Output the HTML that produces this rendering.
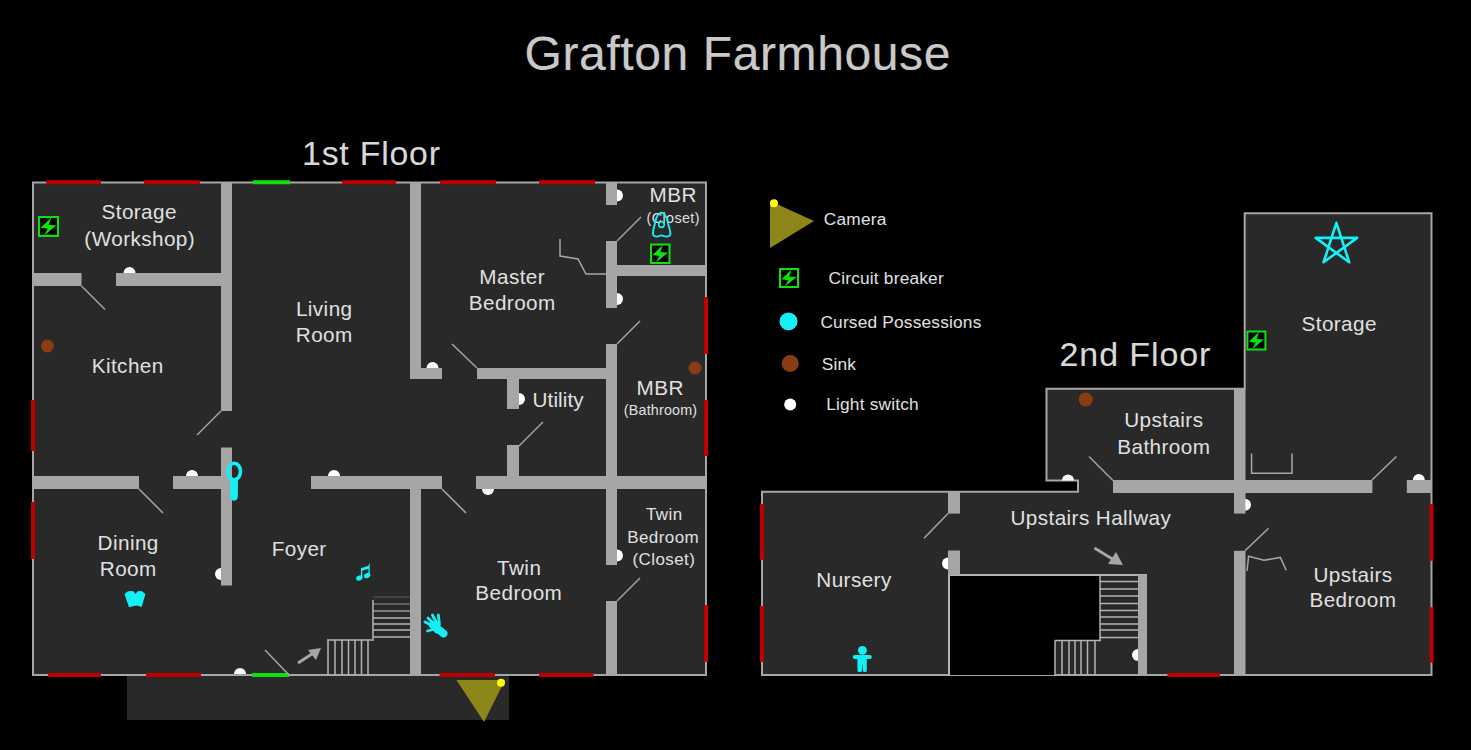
<!DOCTYPE html>
<html><head><meta charset="utf-8"><title>Grafton Farmhouse</title>
<style>html,body{margin:0;padding:0;background:#000;overflow:hidden}svg{display:block}text{font-family:"Liberation Sans",sans-serif}</style>
</head><body>
<svg width="1471" height="750" viewBox="0 0 1471 750">
<rect x="0" y="0" width="1471" height="750" fill="#000"/>
<text x="737.8" y="70" font-size="48" text-anchor="middle" fill="#c9c9c9" stroke="#c9c9c9" stroke-width="0.2" letter-spacing="0.6">Grafton Farmhouse</text>
<text x="371.4" y="165" font-size="33.8" text-anchor="middle" fill="#d8d8d8" stroke="#d8d8d8" stroke-width="0.1" letter-spacing="0.8">1st Floor</text>
<text x="1135.45" y="365.7" font-size="34" text-anchor="middle" fill="#d8d8d8" stroke="#d8d8d8" stroke-width="0.1" letter-spacing="0.9">2nd Floor</text>
<rect x="127" y="675" width="382" height="45" fill="#292929" />
<rect x="33" y="182.5" width="673" height="492.5" fill="#292929" stroke="#a6a6a6" stroke-width="2"/>
<line x1="46" y1="182.3" x2="101" y2="182.3" stroke="#c00000" stroke-width="4" />
<line x1="144" y1="182.3" x2="200" y2="182.3" stroke="#c00000" stroke-width="4" />
<line x1="342" y1="182.3" x2="396" y2="182.3" stroke="#c00000" stroke-width="4" />
<line x1="440" y1="182.3" x2="496" y2="182.3" stroke="#c00000" stroke-width="4" />
<line x1="539" y1="182.3" x2="595" y2="182.3" stroke="#c00000" stroke-width="4" />
<line x1="253" y1="182.3" x2="290" y2="182.3" stroke="#10e010" stroke-width="4" />
<line x1="48" y1="675" x2="101" y2="675" stroke="#c00000" stroke-width="4" />
<line x1="146" y1="675" x2="201" y2="675" stroke="#c00000" stroke-width="4" />
<line x1="439.5" y1="675" x2="495" y2="675" stroke="#c00000" stroke-width="4" />
<line x1="539" y1="675" x2="593.5" y2="675" stroke="#c00000" stroke-width="4" />
<line x1="252" y1="675" x2="289" y2="675" stroke="#10e010" stroke-width="4" />
<line x1="33" y1="400" x2="33" y2="451" stroke="#c00000" stroke-width="4" />
<line x1="33" y1="502" x2="33" y2="559" stroke="#c00000" stroke-width="4" />
<line x1="706" y1="297" x2="706" y2="354" stroke="#c00000" stroke-width="4" />
<line x1="706" y1="400" x2="706" y2="456" stroke="#c00000" stroke-width="4" />
<line x1="706" y1="605" x2="706" y2="662" stroke="#c00000" stroke-width="4" />
<path d="M123.5,273 A6,6 0 0 1 135.5,273 Z" fill="#ffffff"/>
<path d="M186,476 A6,6 0 0 1 198,476 Z" fill="#ffffff"/>
<path d="M221,568 A6,6 0 0 0 221,580 Z" fill="#ffffff"/>
<path d="M234,674 A6,6 0 0 1 246,674 Z" fill="#ffffff"/>
<path d="M328,476 A6,6 0 0 1 340,476 Z" fill="#ffffff"/>
<path d="M426.5,368 A6,6 0 0 1 438.5,368 Z" fill="#ffffff"/>
<path d="M482,489 A6,6 0 0 0 494,489 Z" fill="#ffffff"/>
<path d="M519,393 A6,6 0 0 1 519,405 Z" fill="#ffffff"/>
<path d="M617,189.5 A6,6 0 0 1 617,201.5 Z" fill="#ffffff"/>
<path d="M617,293 A6,6 0 0 1 617,305 Z" fill="#ffffff"/>
<path d="M617,549.5 A6,6 0 0 1 617,561.5 Z" fill="#ffffff"/>
<rect x="221" y="182.5" width="11" height="228.5" fill="#a6a6a6" />
<rect x="221" y="447.5" width="11" height="138" fill="#a6a6a6" />
<rect x="33" y="273" width="48.5" height="13" fill="#a6a6a6" />
<rect x="116" y="273" width="105" height="13" fill="#a6a6a6" />
<rect x="33" y="476" width="106" height="13" fill="#a6a6a6" />
<rect x="173" y="476" width="48" height="13" fill="#a6a6a6" />
<rect x="410" y="182.5" width="11" height="196.5" fill="#a6a6a6" />
<rect x="410" y="368" width="32" height="11" fill="#a6a6a6" />
<rect x="311" y="476" width="131" height="13" fill="#a6a6a6" />
<rect x="410" y="489" width="11" height="186" fill="#a6a6a6" />
<rect x="477" y="368" width="129" height="11" fill="#a6a6a6" />
<rect x="507" y="379" width="12" height="30" fill="#a6a6a6" />
<rect x="507" y="445" width="12" height="31" fill="#a6a6a6" />
<rect x="476" y="476" width="230" height="13" fill="#a6a6a6" />
<rect x="606" y="182.5" width="11" height="22.5" fill="#a6a6a6" />
<rect x="606" y="241" width="11" height="67" fill="#a6a6a6" />
<rect x="606" y="344" width="11" height="221" fill="#a6a6a6" />
<rect x="606" y="601" width="11" height="74" fill="#a6a6a6" />
<rect x="617" y="265" width="89" height="11" fill="#a6a6a6" />
<line x1="81.5" y1="286" x2="105" y2="309.5" stroke="#a6a6a6" stroke-width="1.5" />
<line x1="221" y1="411" x2="197" y2="435" stroke="#a6a6a6" stroke-width="1.5" />
<line x1="139" y1="489" x2="163" y2="513" stroke="#a6a6a6" stroke-width="1.5" />
<line x1="265" y1="650" x2="289" y2="675" stroke="#a6a6a6" stroke-width="1.5" />
<line x1="452" y1="344" x2="477" y2="368" stroke="#a6a6a6" stroke-width="1.5" />
<line x1="442" y1="489" x2="466" y2="513" stroke="#a6a6a6" stroke-width="1.5" />
<line x1="519" y1="446" x2="543" y2="422" stroke="#a6a6a6" stroke-width="1.5" />
<line x1="617" y1="241" x2="641" y2="217" stroke="#a6a6a6" stroke-width="1.5" />
<line x1="617" y1="344" x2="640" y2="321" stroke="#a6a6a6" stroke-width="1.5" />
<line x1="617" y1="601" x2="640" y2="578" stroke="#a6a6a6" stroke-width="1.5" />
<polyline points="560,239 560,256 578,259 586,274 606,274" stroke="#a6a6a6" stroke-width="1.5" fill="none" />
<circle cx="47.4" cy="346" r="6.5" fill="#8a3c12"/>
<circle cx="695" cy="368" r="6.5" fill="#8a3c12"/>
<line x1="373" y1="600" x2="373" y2="639" stroke="#b4b4b4" stroke-width="1.5" />
<line x1="373" y1="597" x2="410" y2="597" stroke="#b4b4b4" stroke-width="1.5" stroke-opacity="0.25"/>
<line x1="373" y1="604" x2="410" y2="604" stroke="#b4b4b4" stroke-width="1.5" stroke-opacity="0.5"/>
<line x1="373" y1="611" x2="410" y2="611" stroke="#b4b4b4" stroke-width="1.5" stroke-opacity="0.8"/>
<line x1="373" y1="618" x2="410" y2="618" stroke="#b4b4b4" stroke-width="1.5" stroke-opacity="1"/>
<line x1="373" y1="624" x2="410" y2="624" stroke="#b4b4b4" stroke-width="1.5" stroke-opacity="1"/>
<line x1="373" y1="630" x2="410" y2="630" stroke="#b4b4b4" stroke-width="1.5" stroke-opacity="1"/>
<line x1="373" y1="637" x2="410" y2="637" stroke="#b4b4b4" stroke-width="1.5" stroke-opacity="1"/>
<line x1="327" y1="640" x2="374" y2="640" stroke="#b4b4b4" stroke-width="1.5" />
<line x1="328" y1="640" x2="328" y2="675" stroke="#b4b4b4" stroke-width="1.5" />
<line x1="335" y1="640" x2="335" y2="675" stroke="#b4b4b4" stroke-width="1.5" />
<line x1="342" y1="640" x2="342" y2="675" stroke="#b4b4b4" stroke-width="1.5" />
<line x1="348.5" y1="640" x2="348.5" y2="675" stroke="#b4b4b4" stroke-width="1.5" />
<line x1="355" y1="640" x2="355" y2="675" stroke="#b4b4b4" stroke-width="1.5" />
<line x1="361.5" y1="640" x2="361.5" y2="675" stroke="#b4b4b4" stroke-width="1.5" />
<line x1="368" y1="640" x2="368" y2="675" stroke="#b4b4b4" stroke-width="1.5" />
<line x1="298" y1="663" x2="315" y2="652" stroke="#a6a6a6" stroke-width="3" />
<polygon points="321,648 308,650 316,660" stroke="#a6a6a6" stroke-width="0" fill="#a6a6a6" />
<text x="139.21" y="219" font-size="20.7" text-anchor="middle" fill="#e0e0e0" stroke="#e0e0e0" stroke-width="0" letter-spacing="0.42">Storage</text>
<text x="139.71" y="246" font-size="20.7" text-anchor="middle" fill="#e0e0e0" stroke="#e0e0e0" stroke-width="0" letter-spacing="0.42">(Workshop)</text>
<text x="127.71" y="373" font-size="20.7" text-anchor="middle" fill="#e0e0e0" stroke="#e0e0e0" stroke-width="0" letter-spacing="0.42">Kitchen</text>
<text x="324.21" y="316" font-size="20.7" text-anchor="middle" fill="#e0e0e0" stroke="#e0e0e0" stroke-width="0" letter-spacing="0.42">Living</text>
<text x="324.21" y="342" font-size="20.7" text-anchor="middle" fill="#e0e0e0" stroke="#e0e0e0" stroke-width="0" letter-spacing="0.42">Room</text>
<text x="512.21" y="284" font-size="20.7" text-anchor="middle" fill="#e0e0e0" stroke="#e0e0e0" stroke-width="0" letter-spacing="0.42">Master</text>
<text x="512.21" y="310" font-size="20.7" text-anchor="middle" fill="#e0e0e0" stroke="#e0e0e0" stroke-width="0" letter-spacing="0.42">Bedroom</text>
<text x="532.5" y="406.7" font-size="20.7" text-anchor="start" fill="#e0e0e0" stroke="#e0e0e0" stroke-width="0" letter-spacing="0.1">Utility</text>
<text x="673.21" y="202" font-size="20.7" text-anchor="middle" fill="#e0e0e0" stroke="#e0e0e0" stroke-width="0" letter-spacing="0.42">MBR</text>
<text x="673.21" y="223" font-size="14.3" text-anchor="middle" fill="#e0e0e0" stroke="#e0e0e0" stroke-width="0" letter-spacing="0.42">(Closet)</text>
<text x="660.21" y="394.5" font-size="20.7" text-anchor="middle" fill="#e0e0e0" stroke="#e0e0e0" stroke-width="0" letter-spacing="0.42">MBR</text>
<text x="660.6" y="415" font-size="14.3" text-anchor="middle" fill="#e0e0e0" stroke="#e0e0e0" stroke-width="0" letter-spacing="0.2">(Bathroom)</text>
<text x="128.21" y="550" font-size="20.7" text-anchor="middle" fill="#e0e0e0" stroke="#e0e0e0" stroke-width="0" letter-spacing="0.42">Dining</text>
<text x="128.21" y="576" font-size="20.7" text-anchor="middle" fill="#e0e0e0" stroke="#e0e0e0" stroke-width="0" letter-spacing="0.42">Room</text>
<text x="299.21" y="556" font-size="20.7" text-anchor="middle" fill="#e0e0e0" stroke="#e0e0e0" stroke-width="0" letter-spacing="0.42">Foyer</text>
<text x="519.21" y="575" font-size="20.7" text-anchor="middle" fill="#e0e0e0" stroke="#e0e0e0" stroke-width="0" letter-spacing="0.42">Twin</text>
<text x="518.8100000000001" y="600.4" font-size="20.7" text-anchor="middle" fill="#e0e0e0" stroke="#e0e0e0" stroke-width="0" letter-spacing="0.42">Bedroom</text>
<text x="664.21" y="520.4" font-size="17" text-anchor="middle" fill="#e0e0e0" stroke="#e0e0e0" stroke-width="0" letter-spacing="0.42">Twin</text>
<text x="663.21" y="543" font-size="17" text-anchor="middle" fill="#e0e0e0" stroke="#e0e0e0" stroke-width="0" letter-spacing="0.42">Bedroom</text>
<text x="663.9100000000001" y="565" font-size="17" text-anchor="middle" fill="#e0e0e0" stroke="#e0e0e0" stroke-width="0" letter-spacing="0.42">(Closet)</text>
<g transform="translate(38,216) scale(1.05)"><rect x="1" y="1" width="18" height="18" fill="#000" stroke="#10e010" stroke-width="2"/><path d="M12.6,1.5 L2.5,11.2 L9.2,12.2 L5.6,18.8 L17.5,9.0 L10.2,8.4 Z" fill="#10e010"/></g>
<g transform="translate(650,243.5) scale(1.025)"><rect x="1" y="1" width="18" height="18" fill="#000" stroke="#10e010" stroke-width="2"/><path d="M12.6,1.5 L2.5,11.2 L9.2,12.2 L5.6,18.8 L17.5,9.0 L10.2,8.4 Z" fill="#10e010"/></g>
<polygon points="456.4,680 505,680 484,722" stroke="#8c8718" stroke-width="0" fill="#8c8718" />
<circle cx="501" cy="682.7" r="4" fill="#ffff00"/>
<ellipse cx="234.2" cy="471.5" rx="6.3" ry="8.3" fill="none" stroke="#14f0f5" stroke-width="3.6"/>
<path d="M230.2,480 L238,480 L237.8,497 C237.5,502 230.5,502 230.3,497 Z" fill="#14f0f5"/>
<g fill="#14f0f5"><ellipse cx="359.3" cy="578" rx="3.3" ry="2.6" transform="rotate(-25 359.3 578)"/><ellipse cx="367.2" cy="575.5" rx="3.3" ry="2.6" transform="rotate(-25 367.2 575.5)"/><path d="M360.9,578 L360.9,568.2 L369.7,565.2 L369.7,575.5 L368.4,575.5 L368.4,568.8 L362.3,570.8 L362.3,578 Z"/><path d="M368.4,566 L369.7,562.5 L369.7,566 Z"/></g>
<path d="M124.5,594 L128,591.2 L133,591 L135.4,593.8 L138,591 L142,591.2 L145.5,594 L141.6,607 L137,605.6 L134,606 L129,607.2 Z" fill="#14f0f5"/>
<g stroke="#14f0f5" stroke-width="2.8" stroke-linecap="round" fill="#14f0f5"><path d="M433,625 L443.5,633.5" stroke-width="8"/><path d="M436,627 L437,630" stroke-width="7"/><path d="M425,622 L434,626.5"/><path d="M428,618 L435.5,625.5"/><path d="M432.4,615 L437.5,624.5"/><path d="M438.3,615 L439.5,624.5"/><path d="M427.5,631 L435,629"/></g>
<path d="M661.5,212.8 C657.5,212.8 656,218 655,223 C654,228 652.5,231 653,234.5 C654,237.5 659,236.8 661.5,235.3 C664,236.8 669.5,237.5 670.3,234.5 C670.8,231 669,228 668,223 C667,218 665.5,212.8 661.5,212.8 Z" fill="none" stroke="#14f0f5" stroke-width="1.9"/>
<circle cx="661.5" cy="224.6" r="2.8" fill="none" stroke="#14f0f5" stroke-width="1.6"/>
<polygon points="770,201 814,221 770,248" stroke="#8c8718" stroke-width="0" fill="#8c8718" />
<circle cx="774" cy="203.3" r="4" fill="#ffff00"/>
<text x="823.8" y="224.5" font-size="17.3" text-anchor="start" fill="#e0e0e0" stroke="#e0e0e0" stroke-width="0" letter-spacing="0.2">Camera</text>
<g transform="translate(779,268) scale(1.0)"><rect x="1" y="1" width="18" height="18" fill="#000" stroke="#10e010" stroke-width="2"/><path d="M12.6,1.5 L2.5,11.2 L9.2,12.2 L5.6,18.8 L17.5,9.0 L10.2,8.4 Z" fill="#10e010"/></g>
<text x="828.5" y="283.5" font-size="17.3" text-anchor="start" fill="#e0e0e0" stroke="#e0e0e0" stroke-width="0" letter-spacing="0.2">Circuit breaker</text>
<circle cx="788.5" cy="321.4" r="9" fill="#14f0f5"/>
<text x="820.4" y="327.6" font-size="17.3" text-anchor="start" fill="#e0e0e0" stroke="#e0e0e0" stroke-width="0" letter-spacing="0.2">Cursed Possessions</text>
<circle cx="790.2" cy="363.5" r="8.5" fill="#8a3c12"/>
<text x="821.8" y="370.4" font-size="17.3" text-anchor="start" fill="#e0e0e0" stroke="#e0e0e0" stroke-width="0" letter-spacing="0.2">Sink</text>
<circle cx="790.2" cy="404.6" r="6" fill="#ffffff"/>
<text x="826.2" y="410.3" font-size="17.3" text-anchor="start" fill="#e0e0e0" stroke="#e0e0e0" stroke-width="0" letter-spacing="0.2">Light switch</text>
<polygon points="762,491.8 1078,491.8 1078,480.5 1046.5,480.5 1046.5,388.8 1244.7,388.8 1244.7,213.3 1431.5,213.3 1431.5,675 762,675" stroke="#a6a6a6" stroke-width="2" fill="#292929" />
<polygon points="949,575 1100,575 1100,640.5 1055,640.5 1055,675 949,675" stroke="none" stroke-width="0" fill="#000" />
<line x1="948" y1="575" x2="1147" y2="575" stroke="#b4b4b4" stroke-width="2" />
<line x1="949" y1="575" x2="949" y2="675" stroke="#b4b4b4" stroke-width="2" />
<line x1="762" y1="503.8" x2="762" y2="559.8" stroke="#c00000" stroke-width="4" />
<line x1="762" y1="606" x2="762" y2="662" stroke="#c00000" stroke-width="4" />
<line x1="1167.4" y1="675" x2="1220" y2="675" stroke="#c00000" stroke-width="4" />
<line x1="1431.5" y1="504" x2="1431.5" y2="560.8" stroke="#c00000" stroke-width="4" />
<line x1="1431.5" y1="607.2" x2="1431.5" y2="662.7" stroke="#c00000" stroke-width="4" />
<path d="M948,557.4 A6,6 0 0 0 948,569.4 Z" fill="#ffffff"/>
<path d="M1062,480.5 A6,6 0 0 1 1074,480.5 Z" fill="#ffffff"/>
<path d="M1245,498.8 A6,6 0 0 1 1245,510.8 Z" fill="#ffffff"/>
<path d="M1412.8,480 A6,6 0 0 1 1424.8,480 Z" fill="#ffffff"/>
<path d="M1138,649 A6,6 0 0 0 1138,661 Z" fill="#ffffff"/>
<rect x="948" y="491.8" width="12" height="21.8" fill="#a6a6a6" />
<rect x="948" y="550.5" width="12" height="24.5" fill="#a6a6a6" />
<rect x="1234" y="388.8" width="11.5" height="124.8" fill="#a6a6a6" />
<rect x="1234" y="550.8" width="11.5" height="124.2" fill="#a6a6a6" />
<rect x="1113" y="480" width="259.4" height="13" fill="#a6a6a6" />
<rect x="1406.8" y="480" width="24.7" height="13" fill="#a6a6a6" />
<rect x="1138" y="575" width="9" height="100" fill="#a6a6a6" />
<line x1="948" y1="513.6" x2="924" y2="538.2" stroke="#a6a6a6" stroke-width="1.5" />
<line x1="1089" y1="456.5" x2="1113" y2="480.5" stroke="#a6a6a6" stroke-width="1.5" />
<line x1="1372" y1="480" x2="1396.4" y2="456.5" stroke="#a6a6a6" stroke-width="1.5" />
<line x1="1245" y1="550.8" x2="1268.6" y2="528.3" stroke="#a6a6a6" stroke-width="1.5" />
<polyline points="1247,571 1248.6,556.2 1264,560.3 1280.3,557.4 1286.2,570.3" stroke="#a6a6a6" stroke-width="1.5" fill="none" />
<polyline points="1251.6,453.6 1251.6,473.3 1292,473.3 1292,453.6" stroke="#a6a6a6" stroke-width="1.5" fill="none" />
<circle cx="1085.7" cy="399.5" r="7" fill="#8a3c12"/>
<line x1="1100" y1="575" x2="1100" y2="641" stroke="#b4b4b4" stroke-width="1.5" />
<line x1="1100" y1="581.5" x2="1138" y2="581.5" stroke="#b4b4b4" stroke-width="1.5" />
<line x1="1100" y1="589" x2="1138" y2="589" stroke="#b4b4b4" stroke-width="1.5" />
<line x1="1100" y1="596" x2="1138" y2="596" stroke="#b4b4b4" stroke-width="1.5" />
<line x1="1100" y1="603.5" x2="1138" y2="603.5" stroke="#b4b4b4" stroke-width="1.5" />
<line x1="1100" y1="610.5" x2="1138" y2="610.5" stroke="#b4b4b4" stroke-width="1.5" />
<line x1="1100" y1="617" x2="1138" y2="617" stroke="#b4b4b4" stroke-width="1.5" />
<line x1="1100" y1="624" x2="1138" y2="624" stroke="#b4b4b4" stroke-width="1.5" />
<line x1="1100" y1="630" x2="1138" y2="630" stroke="#b4b4b4" stroke-width="1.5" />
<line x1="1100" y1="637.5" x2="1138" y2="637.5" stroke="#b4b4b4" stroke-width="1.5" />
<line x1="1055" y1="640.5" x2="1101" y2="640.5" stroke="#b4b4b4" stroke-width="1.5" />
<line x1="1055" y1="640.5" x2="1055" y2="675" stroke="#b4b4b4" stroke-width="1.5" />
<line x1="1062" y1="640.5" x2="1062" y2="675" stroke="#b4b4b4" stroke-width="1.5" />
<line x1="1069" y1="640.5" x2="1069" y2="675" stroke="#b4b4b4" stroke-width="1.5" />
<line x1="1075" y1="640.5" x2="1075" y2="675" stroke="#b4b4b4" stroke-width="1.5" />
<line x1="1081" y1="640.5" x2="1081" y2="675" stroke="#b4b4b4" stroke-width="1.5" />
<line x1="1087.5" y1="640.5" x2="1087.5" y2="675" stroke="#b4b4b4" stroke-width="1.5" />
<line x1="1095" y1="640.5" x2="1095" y2="675" stroke="#b4b4b4" stroke-width="1.5" />
<line x1="1094.5" y1="548" x2="1114" y2="560" stroke="#a6a6a6" stroke-width="3" />
<polygon points="1123,565 1108,564 1116,552" stroke="#a6a6a6" stroke-width="0" fill="#a6a6a6" />
<g transform="translate(1246.4,330.5) scale(1.0)"><rect x="1" y="1" width="18" height="18" fill="#000" stroke="#10e010" stroke-width="2"/><path d="M12.6,1.5 L2.5,11.2 L9.2,12.2 L5.6,18.8 L17.5,9.0 L10.2,8.4 Z" fill="#10e010"/></g>
<polygon points="1336.4,222.79999999999998 1349.213718499976,262.23657047737385 1315.6669679447657,237.86342952262615 1357.1330320552345,237.86342952262615 1323.5862815000241,262.23657047737385" stroke="#14f0f5" stroke-width="2.6" fill="none" stroke-linejoin="round"/>
<g fill="#14f0f5"><circle cx="862.4" cy="650.3" r="4.4"/><rect x="852.6" y="654.9" width="19.2" height="4.2" rx="2"/><path d="M857.4,655 L866.8,655 L866.8,670.5 C866.8,672.5 862.8,672.5 862.8,670.5 L862.5,664 L862.3,664 L862,670.5 C862,672.5 857.4,672.5 857.4,670.5 Z"/></g>
<text x="1339.21" y="330.5" font-size="20.7" text-anchor="middle" fill="#e0e0e0" stroke="#e0e0e0" stroke-width="0" letter-spacing="0.42">Storage</text>
<text x="1163.81" y="427.2" font-size="20.7" text-anchor="middle" fill="#e0e0e0" stroke="#e0e0e0" stroke-width="0" letter-spacing="0.42">Upstairs</text>
<text x="1163.81" y="453.9" font-size="20.7" text-anchor="middle" fill="#e0e0e0" stroke="#e0e0e0" stroke-width="0" letter-spacing="0.42">Bathroom</text>
<text x="1090.81" y="525.4" font-size="20.7" text-anchor="middle" fill="#e0e0e0" stroke="#e0e0e0" stroke-width="0" letter-spacing="0.42">Upstairs Hallway</text>
<text x="854.01" y="587.2" font-size="20.7" text-anchor="middle" fill="#e0e0e0" stroke="#e0e0e0" stroke-width="0" letter-spacing="0.42">Nursery</text>
<text x="1353.01" y="581.6" font-size="20.7" text-anchor="middle" fill="#e0e0e0" stroke="#e0e0e0" stroke-width="0" letter-spacing="0.42">Upstairs</text>
<text x="1352.91" y="607.2" font-size="20.7" text-anchor="middle" fill="#e0e0e0" stroke="#e0e0e0" stroke-width="0" letter-spacing="0.42">Bedroom</text>
</svg>
</body></html>
